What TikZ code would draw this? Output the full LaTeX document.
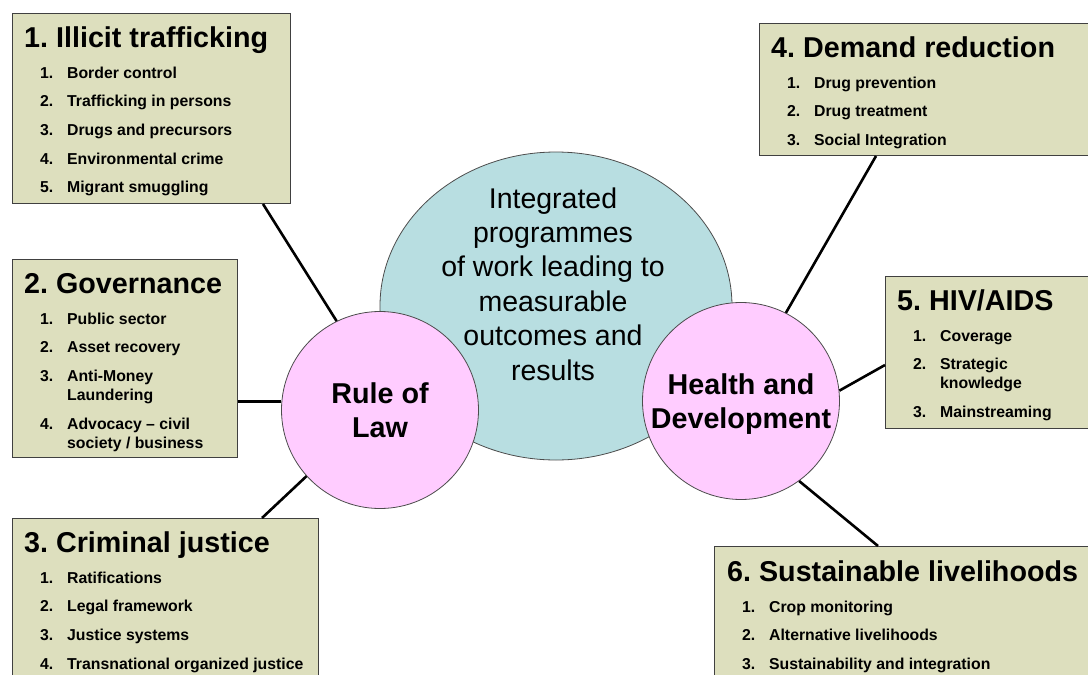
\documentclass[tikz,border=0pt]{standalone}
\usepackage{fontspec}
\setmainfont{Liberation Sans}
\usetikzlibrary{shapes.geometric}
\definecolor{boxfill}{RGB}{221,223,190}
\definecolor{corefill}{RGB}{184,222,225}
\definecolor{hubfill}{RGB}{255,204,255}
\newcommand{\boxhead}{\fontsize{28.7}{34}\selectfont\bfseries}
\newcommand{\boxitems}{\fontsize{15.8}{19}\selectfont\bfseries}
\newcommand{\steps}[1]{\begin{tabular}[t]{@{}p{27pt}@{}l@{}}#1\end{tabular}}
\frenchspacing
\begin{document}
\begin{tikzpicture}[x=1pt,y=-1pt,
    topic/.style={draw=black!75,line width=1pt,fill=boxfill,anchor=north west,inner sep=0pt},
    head/.style={anchor=base west,inner sep=0pt,font=\boxhead},
    list/.style={anchor=base west,inner sep=0pt,font=\boxitems},
    hub/.style={circle,draw=black!70,line width=0.8pt,fill=hubfill,minimum size=197pt,inner sep=0pt,align=center,font=\boxhead},
    spoke/.style={line width=2.6pt}]
\useasboundingbox (0,0) rectangle (1088,675);
\clip (0,0) rectangle (1088,675);
% centre
\node [ellipse,draw=black!70,line width=0.8pt,fill=corefill,minimum width=352pt,minimum height=308pt,inner sep=0pt] (core) at (556,306) {};
\node [align=center,font=\fontsize{28.5}{34.4}\selectfont] (goal) at (553,284) {Integrated\\programmes\\of work leading to\\measurable\\outcomes and\\results};
\node [hub] (law) at (380,410) {Rule of\\Law};
\node [hub] (hd) at (741,401) {Health and\\Develo\smash{p}ment};
% topic boxes
\node [topic,minimum width=278pt,minimum height=190pt] (ill) at (12,13) {};
\node [head] (illh) at ([xshift=12pt,yshift=-34pt]ill.north west) {1. Illicit trafficking};
\node [list] (illl) at ([xshift=28pt,yshift=-65pt]ill.north west) {\steps{
    1. & Border control\\[9.7pt]
    2. & Trafficking in persons\\[9.7pt]
    3. & Drugs and precursors\\[9.7pt]
    4. & Environmental crime\\[9.7pt]
    5. & Migrant smuggling}};
\node [topic,minimum width=225pt,minimum height=198pt] (gov) at (12,259) {};
\node [head] (govh) at ([xshift=12pt,yshift=-34pt]gov.north west) {2. Governance};
\node [list] (govl) at ([xshift=28pt,yshift=-65pt]gov.north west) {\steps{
    1. & Public sector\\[9.7pt]
    2. & Asset recovery\\[9.7pt]
    3. & Anti-Money\\
       & Laundering\\[9.7pt]
    4. & Advocacy -- civil\\
       & society / business}};
\node [topic,minimum width=306pt,minimum height=200pt] (cj) at (12,518) {};
\node [head] (cjh) at ([xshift=12pt,yshift=-34pt]cj.north west) {3. Criminal justice};
\node [list] (cjl) at ([xshift=28pt,yshift=-65pt]cj.north west) {\steps{
    1. & Ratifications\\[9.7pt]
    2. & Legal framework\\[9.7pt]
    3. & Justice systems\\[9.7pt]
    4. & Transnational organized justice}};
\node [topic,minimum width=340pt,minimum height=132pt] (dr) at (759,23) {};
\node [head] (drh) at ([xshift=12pt,yshift=-34pt]dr.north west) {4. Demand reduction};
\node [list] (drl) at ([xshift=28pt,yshift=-65pt]dr.north west) {\steps{
    1. & Drug prevention\\[9.7pt]
    2. & Drug treatment\\[9.7pt]
    3. & Social Integration}};
\node [topic,minimum width=215pt,minimum height=152pt] (hiv) at (885,276) {};
\node [head] (hivh) at ([xshift=12pt,yshift=-34pt]hiv.north west) {5. HIV/AIDS};
\node [list] (hivl) at ([xshift=28pt,yshift=-65pt]hiv.north west) {\steps{
    1. & Coverage\\[9.7pt]
    2. & Strategic\\
       & knowledge\\[9.7pt]
    3. & Mainstreaming}};
\node [topic,minimum width=385pt,minimum height=200pt] (sl) at (714,546) {};
\node [head] (slh) at ([xshift=13pt,yshift=-35pt]sl.north west) {6. Sustainable livelihoods};
\node [list] (sll) at ([xshift=28pt,yshift=-66pt]sl.north west) {\steps{
    1. & Crop monitoring\\[9.7pt]
    2. & Alternative livelihoods\\[9.7pt]
    3. & Sustainability and integration}};
% spokes
\draw [spoke] ([xshift=251pt]ill.south west) -- (law.116);
\draw [spoke] (law.175) -- (law.175 -| gov.east);
\draw [spoke] ([xshift=250pt]cj.north west) -- (law.222);
\draw [spoke] ([xshift=117pt]dr.south west) -- (hd.63);
\draw [spoke] ([yshift=-89pt]hiv.north west) -- (hd.6);
\draw [spoke] ([xshift=164pt]sl.north west) -- (hd.306);
\end{tikzpicture}
\end{document}
